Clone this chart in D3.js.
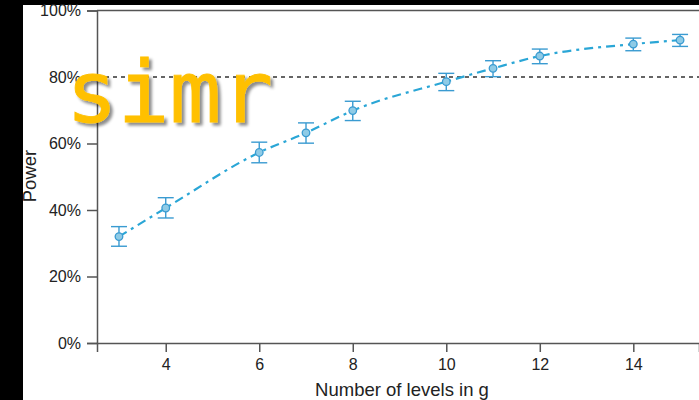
<!DOCTYPE html>
<html>
<head>
<meta charset="utf-8">
<script src="https://cdn.jsdelivr.net/npm/d3@7"></script>
<style>
  html, body { margin: 0; padding: 0; background: #000; }
  svg { display: block; }
</style>
</head>
<body>
<svg id="chart" width="699" height="400"></svg>
<script>
// Power curve: number of levels in g vs. estimated power with 95% intervals
const levels = [3, 4, 6, 7, 8, 10, 11, 12, 14, 15];
const power  = [0.320, 0.406, 0.573, 0.632, 0.699, 0.786, 0.826, 0.863, 0.899, 0.911];
const lower  = [0.291, 0.376, 0.542, 0.601, 0.669, 0.759, 0.801, 0.840, 0.879, 0.892];
const upper  = [0.350, 0.437, 0.604, 0.662, 0.727, 0.811, 0.849, 0.884, 0.917, 0.928];
const xTicks = [4, 6, 8, 10, 12, 14];
const yTicks = [0, 0.2, 0.4, 0.6, 0.8, 1.0];
const target = 0.8;

const svg = d3.select("#chart");
const W = 699, H = 400;

// white panel
svg.append("rect").attr("x", 23).attr("y", 5).attr("width", W - 23).attr("height", H - 5).attr("fill", "#fff");

const x = d3.scaleLinear().domain([2.53, 15.405]).range([97, 699]);
const y = d3.scaleLinear().domain([0, 1]).range([343, 10.5]);

const axisColor = "#555";
const font = "'Liberation Sans', Arial, sans-serif";

// y axis
const yAxis = svg.append("g").attr("transform", "translate(97,0)")
  .call(d3.axisLeft(y).tickValues(yTicks).tickFormat(d3.format(".0%")).tickSize(10).tickPadding(6));
// x axis
const xAxis = svg.append("g").attr("transform", "translate(0,343)")
  .call(d3.axisBottom(x).tickValues(xTicks).tickSize(9).tickPadding(7));
[yAxis, xAxis].forEach(g => {
  g.select(".domain").attr("stroke", axisColor).attr("stroke-width", 1.5);
  g.selectAll(".tick line").attr("stroke", axisColor).attr("stroke-width", 1.5);
  g.selectAll("text").attr("fill", "#222").style("font-family", font).style("font-size", "16px");
});

// top frame line
svg.append("line").attr("x1", 97).attr("x2", W).attr("y1", y(1)).attr("y2", y(1))
  .attr("stroke", axisColor).attr("stroke-width", 1.5);

// target power line
svg.append("line").attr("x1", 97).attr("x2", W).attr("y1", y(target)).attr("y2", y(target))
  .attr("stroke", "#333").attr("stroke-width", 1.3).attr("stroke-dasharray", "4,4");

// axis titles
svg.append("text").attr("x", 402).attr("y", 396).attr("text-anchor", "middle")
  .style("font-family", font).style("font-size", "18.5px").attr("fill", "#222")
  .text("Number of levels in g");
svg.append("text").attr("transform", "translate(36,176) rotate(-90)").attr("text-anchor", "middle")
  .style("font-family", font).style("font-size", "18.5px").attr("fill", "#222")
  .text("Power");

const pts = levels.map((l, i) => ({ l, p: power[i], lo: lower[i], hi: upper[i] }));

// fitted curve
const line = d3.line().x(d => x(d.l)).y(d => y(d.p)).curve(d3.curveMonotoneX);
svg.append("path").datum(pts).attr("d", line)
  .attr("fill", "none").attr("stroke", "#2aa6d6").attr("stroke-width", 2.2)
  .attr("stroke-dasharray", "9,5,3,5");

// error bars
const eb = svg.append("g").attr("stroke", "#3a9bd1").attr("stroke-width", 1.4);
pts.forEach(d => {
  eb.append("line").attr("x1", x(d.l)).attr("x2", x(d.l)).attr("y1", y(d.lo)).attr("y2", y(d.hi));
  eb.append("line").attr("x1", x(d.l) - 8).attr("x2", x(d.l) + 8).attr("y1", y(d.lo)).attr("y2", y(d.lo));
  eb.append("line").attr("x1", x(d.l) - 8).attr("x2", x(d.l) + 8).attr("y1", y(d.hi)).attr("y2", y(d.hi));
});

// points
svg.append("g").selectAll("circle").data(pts).join("circle")
  .attr("cx", d => x(d.l)).attr("cy", d => y(d.p)).attr("r", 3.8)
  .attr("fill", "#8fcbe6").attr("stroke", "#3a9bd1").attr("stroke-width", 1.3);

// logo text
const defs = svg.append("defs");
const f = defs.append("filter").attr("id", "shadow").attr("x", "-10%").attr("y", "-10%").attr("width", "130%").attr("height", "130%");
f.append("feDropShadow").attr("dx", 3).attr("dy", 3).attr("stdDeviation", 1.8)
  .attr("flood-color", "#000").attr("flood-opacity", 0.45);
svg.append("text").attr("x", 66).attr("y", 122)
  .style("font-family", "'DejaVu Sans Mono', monospace").style("font-size", "86px")
  .attr("fill", "#ffc000").attr("stroke", "#ffc000").attr("stroke-width", 0.8)
  .attr("filter", "url(#shadow)")
  .text("simr");
</script>
</body>
</html>
